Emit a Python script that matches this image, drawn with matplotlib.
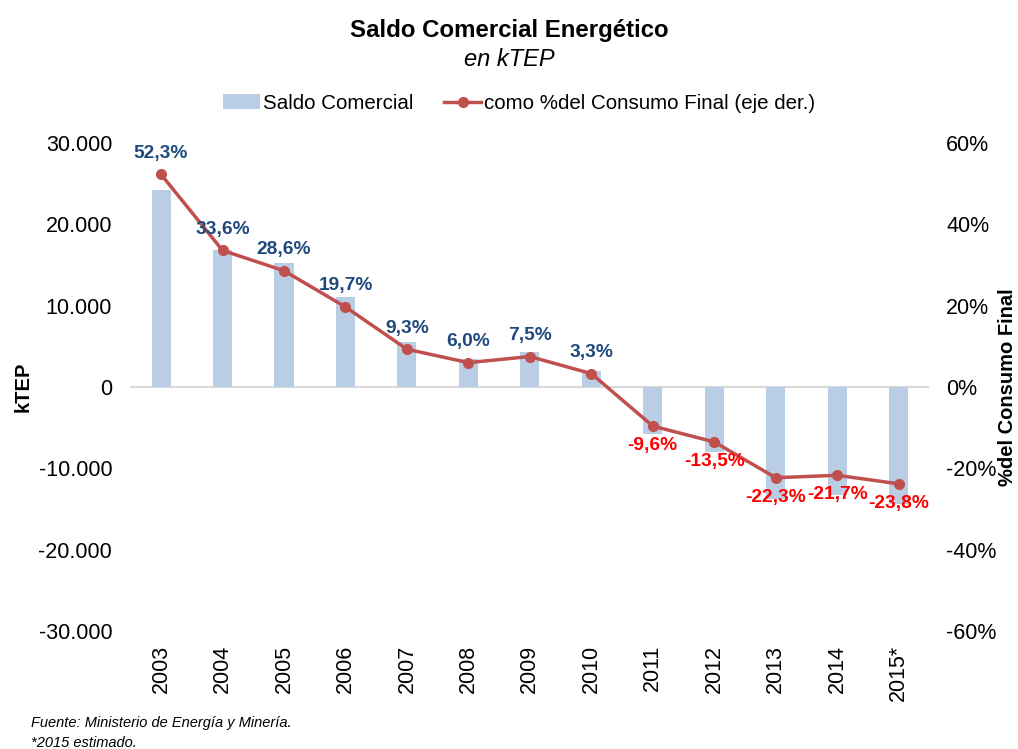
import matplotlib
matplotlib.use("Agg")
import matplotlib.pyplot as plt
import numpy as np

plt.rcParams['font.family'] = ['Liberation Sans', 'DejaVu Sans']

years = ['2003', '2004', '2005', '2006', '2007', '2008', '2009', '2010',
         '2011', '2012', '2013', '2014', '2015*']
saldo = [24200, 16900, 15200, 11100, 5600, 3500, 4300, 2000,
         -5800, -7950, -13800, -13300, -14400]
pct = [52.3, 33.6, 28.6, 19.7, 9.3, 6.0, 7.5, 3.3,
       -9.6, -13.5, -22.3, -21.7, -23.8]
pct_labels = ['52,3%', '33,6%', '28,6%', '19,7%', '9,3%', '6,0%', '7,5%', '3,3%',
              '-9,6%', '-13,5%', '-22,3%', '-21,7%', '-23,8%']
left_ticks = [-30000, -20000, -10000, 0, 10000, 20000, 30000]
left_tick_labels = ['-30.000', '-20.000', '-10.000', '0', '10.000', '20.000', '30.000']
right_ticks = [-60, -40, -20, 0, 20, 40, 60]
right_tick_labels = ['-60%', '-40%', '-20%', '0%', '20%', '40%', '60%']

bar_color = '#B9CDE5'
line_color = '#C0504D'
pos_color = '#1F497D'
neg_color = '#FF0000'

fig = plt.figure(figsize=(10.18, 7.49), dpi=100)
ax = fig.add_axes([0.128, 0.1575, 0.785, 0.6515])
x = np.arange(len(years))
bars = ax.bar(x, saldo, width=0.31, color=bar_color, label='Saldo Comercial', zorder=2)
ax.set_ylim(-30000, 30000)
ax.set_xlim(-0.5, len(years) - 0.5)
ax.set_yticks(left_ticks)
ax.set_yticklabels(left_tick_labels, fontsize=15.5)
ax.axhline(0, color='#D9D9D9', lw=1.5, zorder=1)
for s in ax.spines.values():
    s.set_visible(False)
ax.tick_params(axis='both', length=0)
ax.tick_params(axis='y', pad=13)
ax.set_xticks(x)
ax.set_xticklabels(years, rotation=90, fontsize=15.5)
ax.tick_params(axis='x', pad=10)
ax.set_ylabel('kTEP', fontsize=14.5, fontweight='bold', labelpad=4)

ax2 = ax.twinx()
line, = ax2.plot(x, pct, color=line_color, lw=2.5, marker='o', markersize=7,
                 label='como %del Consumo Final (eje der.)', zorder=3)
ax2.set_ylim(-60, 60)
ax2.set_yticks(right_ticks)
ax2.set_yticklabels(right_tick_labels, fontsize=15.5)
for s in ax2.spines.values():
    s.set_visible(False)
ax2.tick_params(axis='y', length=0, pad=12)
ax2.set_ylabel('%del Consumo Final', fontsize=14.5, fontweight='bold', labelpad=1)

for xi, v, lab in zip(x, pct, pct_labels):
    if v >= 0:
        ax2.annotate(lab, (xi, v), xytext=(0, 9), textcoords='offset points',
                     ha='center', va='bottom', fontsize=13.8, fontweight='bold',
                     color=pos_color)
    else:
        ax2.annotate(lab, (xi, v), xytext=(0, -8), textcoords='offset points',
                     ha='center', va='top', fontsize=13.8, fontweight='bold',
                     color=neg_color)

fig.text(0.5, 0.959, 'Saldo Comercial Energético', ha='center', va='center',
         fontsize=17.3, fontweight='bold')
fig.text(0.5, 0.921, 'en kTEP', ha='center', va='center', fontsize=17,
         style='italic')

leg = fig.legend([bars, line], ['Saldo Comercial', 'como %del Consumo Final (eje der.)'],
                 loc='center', bbox_to_anchor=(0.51, 0.862), ncol=2, frameon=False,
                 fontsize=14.8, handlelength=1.8, columnspacing=1.5, handletextpad=0.15)

fig.text(0.03, 0.035, 'Fuente: Ministerio de Energía y Minería.', fontsize=10.5,
         style='italic', va='center')
fig.text(0.03, 0.008, '*2015 estimado.', fontsize=10.5, style='italic', va='center')

fig.savefig('out.png', dpi=100)
